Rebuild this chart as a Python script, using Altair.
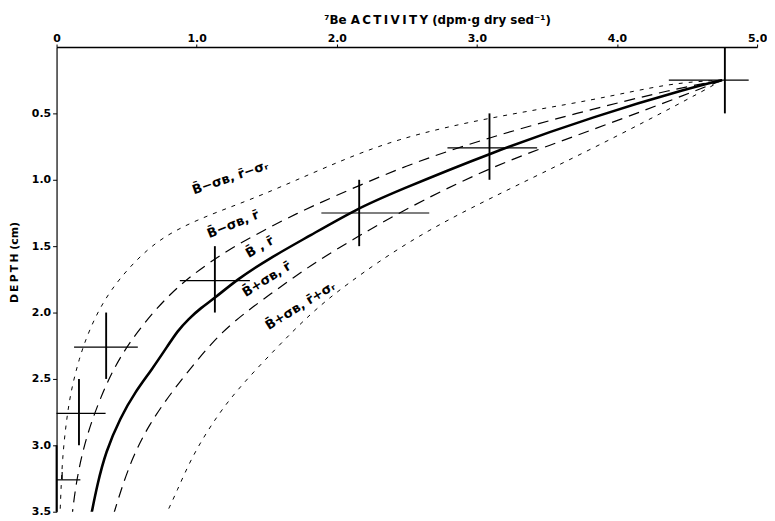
import altair as alt
import pandas as pd

# ---- axis ticks ----
x_ticks = [0, 1, 2, 3, 4, 5]
y_ticks = [0.5, 1.0, 1.5, 2.0, 2.5, 3.0, 3.5]

# ---- model curves (activity dpm/g, depth cm) ----
mean_act = [4.75, 4.55, 3.84, 3.09, 2.42, 2.14, 1.81, 1.505, 1.29, 1.13, 1.03, 0.94, 0.863, 0.80, 0.68, 0.56, 0.456, 0.35, 0.29, 0.25]
mean_depth = [0.25, 0.30, 0.52, 0.80, 1.09, 1.22, 1.42, 1.60, 1.75, 1.89, 1.965, 2.05, 2.14, 2.24, 2.43, 2.60, 2.79, 3.05, 3.30, 3.51]

bminus_act = [4.75, 4.43, 3.70, 3.09, 2.49, 1.93, 1.72, 1.48, 1.22, 0.96, 0.77, 0.585, 0.444, 0.35, 0.255, 0.184, 0.137, 0.113]
bminus_depth = [0.25, 0.31, 0.50, 0.68, 0.89, 1.15, 1.25, 1.38, 1.53, 1.72, 1.90, 2.13, 2.35, 2.55, 2.80, 3.05, 3.30, 3.51]

bplus_act = [4.75, 4.55, 3.84, 3.09, 2.42, 2.10, 1.88, 1.74, 1.38, 1.175, 1.01, 0.82, 0.656, 0.538, 0.456, 0.41]
bplus_depth = [0.25, 0.335, 0.62, 0.90, 1.26, 1.46, 1.60, 1.70, 1.97, 2.15, 2.35, 2.60, 2.85, 3.10, 3.35, 3.51]

bminus_rminus_act = [4.75, 4.38, 3.84, 3.09, 2.42, 1.93, 1.46, 1.15, 0.90, 0.656, 0.373, 0.232, 0.16, 0.10, 0.066, 0.042, 0.031, 0.025]
bminus_rminus_depth = [0.25, 0.27, 0.40, 0.53, 0.69, 0.90, 1.12, 1.24, 1.35, 1.50, 1.83, 2.13, 2.35, 2.60, 2.85, 3.10, 3.35, 3.51]

bplus_rplus_act = [4.75, 4.55, 3.84, 3.09, 2.54, 2.05, 1.81, 1.575, 1.27, 1.10, 0.96, 0.857, 0.786]
bplus_rplus_depth = [0.25, 0.37, 0.76, 1.14, 1.44, 1.80, 2.01, 2.26, 2.60, 2.85, 3.10, 3.35, 3.51]

# ---- measured data with error bars ----
obs_depth = [0.25, 0.76, 1.25, 1.76, 2.26, 2.76, 3.26]
obs_act = [4.77, 3.09, 2.16, 1.13, 0.354, 0.16, 0.0]
obs_act_lo = [4.37, 2.79, 1.89, 0.88, 0.125, 0.0, 0.0]
obs_act_hi = [4.94, 3.43, 2.66, 1.38, 0.58, 0.35, 0.17]
obs_depth_top = [0.0, 0.5, 1.0, 1.5, 2.0, 2.5, 3.0]
obs_depth_bot = [0.5, 1.0, 1.5, 2.0, 2.5, 3.0, 3.5]

# small cap tick on the deepest sample
cap_act = [0.04]
cap_top = [3.20]
cap_bot = [3.26]

# ---- curve labels ----
lab_text = ["B\u0304\u2212\u03c3\u0299, r\u0304\u2212\u03c3\u1d63",
            "B\u0304\u2212\u03c3\u0299, r\u0304",
            "B\u0304 , r\u0304",
            "B\u0304+\u03c3\u0299, r\u0304",
            "B\u0304+\u03c3\u0299, r\u0304+\u03c3\u1d63"]
lab_act = [1.24, 1.26, 1.45, 1.50, 1.74]
lab_depth = [0.985, 1.336, 1.507, 1.75, 1.95]
lab_angle = [341, 338, 330, 328, 328]

FONT = "DejaVu Sans"
TS = "\u2009"  # thin space for letter spacing


def curve_df(name, act, depth):
    return pd.DataFrame({"curve": name, "act": act, "depth": depth, "ord": list(range(len(act)))})


solid_df = curve_df("mean", mean_act, mean_depth)
long_df = pd.concat([curve_df("bminus", bminus_act, bminus_depth),
                     curve_df("bplus", bplus_act, bplus_depth)])
short_df = pd.concat([curve_df("bmrm", bminus_rminus_act, bminus_rminus_depth),
                      curve_df("bprp", bplus_rplus_act, bplus_rplus_depth)])

obs_df = pd.DataFrame({"depth": obs_depth, "act": obs_act, "lo": obs_act_lo, "hi": obs_act_hi,
                       "top": obs_depth_top, "bot": obs_depth_bot})
cap_df = pd.DataFrame({"act": cap_act, "top": cap_top, "bot": cap_bot})

xscale = alt.Scale(domain=[0, 5], nice=False, zero=False)
yscale = alt.Scale(domain=[0, 3.5], reverse=True, nice=False, zero=False)

x_title = "\u2077Be " + TS.join("ACTIVITY") + "  (dpm\u00b7g dry sed\u207b\u00b9)"
y_title = TS.join("DEPTH") + "  (cm)"

x_axis = alt.Axis(orient="top", values=x_ticks,
                  labelExpr="datum.value == 0 ? '0' : format(datum.value, '.1f')",
                  title=x_title,
                  titleX=384, titleY=-24, titleAlign="center", titleBaseline="alphabetic",
                  titleFontSize=12, titleFontWeight="bold", titleColor="black", titleFont=FONT,
                  labelFontSize=11, labelFontWeight="bold", labelColor="black", labelFont=FONT,
                  labelPadding=1, labelFlush=False, tickSize=3, tickColor="black", tickWidth=1,
                  domainColor="black", domainWidth=1.6, grid=False)
y_axis = alt.Axis(orient="left", values=y_ticks, format=".1f",
                  title=y_title, titleAngle=270, titleX=-42, titleY=217,
                  titleAlign="center", titleBaseline="middle",
                  titleFontSize=11, titleFontWeight="bold", titleColor="black", titleFont=FONT,
                  labelFontSize=11, labelFontWeight="bold", labelColor="black", labelFont=FONT,
                  labelPadding=2, labelFlush=False, tickSize=4, tickColor="black", tickWidth=1,
                  domainColor="black", domainWidth=1.2, grid=False)


def X(field):
    return alt.X(field, type="quantitative", scale=xscale, axis=x_axis)


def Y(field):
    return alt.Y(field, type="quantitative", scale=yscale, axis=y_axis)


solid = alt.Chart(solid_df).mark_line(color="black", strokeWidth=2.6, clip=True,
                                      interpolate="basis").encode(
    x=X("act"), y=Y("depth"), order="ord:Q",
)

longd = alt.Chart(long_df).mark_line(color="black", strokeWidth=1.2, strokeDash=[11, 7], clip=True,
                                     interpolate="basis").encode(
    x=X("act"), y=Y("depth"), detail="curve:N", order="ord:Q",
)

shortd = alt.Chart(short_df).mark_line(color="black", strokeWidth=1.0, strokeDash=[4, 6], clip=True,
                                       interpolate="basis").encode(
    x=X("act"), y=Y("depth"), detail="curve:N", order="ord:Q",
)

hbars = alt.Chart(obs_df).mark_rule(color="black", strokeWidth=1.2).encode(
    x=X("lo"), x2="hi:Q", y=Y("depth"),
)

vbars = alt.Chart(obs_df).mark_rule(color="black", strokeWidth=1.9).encode(
    x=X("act"), y=Y("top"), y2="bot:Q",
)

caps = alt.Chart(cap_df).mark_rule(color="black", strokeWidth=1.2).encode(
    x=X("act"), y=Y("top"), y2="bot:Q",
)

texts = []
for t, a, d, ang in zip(lab_text, lab_act, lab_depth, lab_angle):
    tdf = pd.DataFrame({"label": [t], "act": [a], "depth": [d]})
    texts.append(
        alt.Chart(tdf).mark_text(font=FONT, fontSize=13, fontWeight="bold", color="black",
                                 angle=ang, align="center", baseline="middle").encode(
            x=X("act"), y=Y("depth"), text="label:N",
        )
    )

chart = alt.layer(solid, longd, shortd, hbars, vbars, caps, *texts).properties(
    width=707, height=469,
    autosize=alt.AutoSizeParams(type="none"),
    padding={"left": 49, "top": 37, "right": 10, "bottom": 6},
).configure(font=FONT).configure_view(stroke=None)

chart.save("out.html", embed_options={"renderer": "svg", "actions": False})
